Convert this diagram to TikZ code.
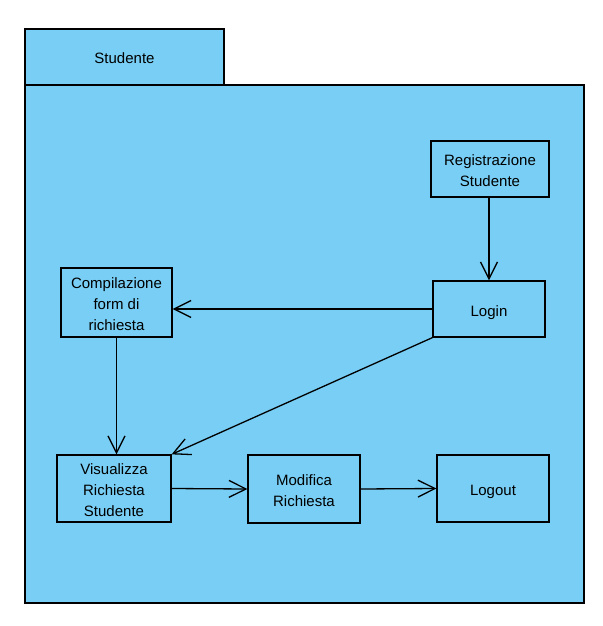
\documentclass[tikz,border=0pt]{standalone}
\usepackage{fontspec}
\setmainfont{Liberation Sans}
\usetikzlibrary{arrows.meta}
\definecolor{pkgblue}{HTML}{78CEF4}
\newcommand{\mlines}[1]{\raisebox{-3pt}[\height][\depth]{\begin{tabular}{@{}c@{}}#1\end{tabular}}}
\begin{document}
\begin{tikzpicture}[x=1pt,y=-1pt,
  box/.style={draw=black,line width=1.3pt,fill=pkgblue},
  uc/.style={draw=black,line width=1.3pt,fill=pkgblue,minimum width=112pt,minimum height=56pt,align=center,inner sep=0pt,font=\fontsize{15}{21}\selectfont},
  conn/.style={draw=black,line width=1.3pt,-{Straight Barb[length=17pt,width=17pt,line width=1.3pt]}}]
\useasboundingbox (0,0) rectangle (602,626);
\fill[white] (0,0) rectangle (602,626);
\draw[box] (25,29) rectangle (224,85);
\node[font=\fontsize{15}{21}\selectfont] (tab) at (124.5,58) {Studente};
\draw[box] (25,85) rectangle (584,603);
\node[uc,minimum width=118pt] (reg) at (490,169) {\mlines{Registrazione\\Studente}};
\node[uc] (login) at (489,309) {\mlines{Login}};
\node[uc,minimum width=111pt,minimum height=69pt] (comp) at (116.5,302.5) {\mlines{Compilazione\\form di\\richiesta}};
\node[uc,minimum width=114pt,minimum height=67pt] (vis) at (114,488.5) {\mlines{Visualizza\\Richiesta\\Studente}};
\node[uc,minimum height=68pt] (mod) at (304,489) {\mlines{Modifica\\Richiesta}};
\node[uc,minimum height=67pt] (logout) at (493,488.5) {\mlines{Logout}};
\draw[conn] (reg.south -| login.north) -- (login.north);
\draw[conn] (login.west) -- (comp.east |- login.west);
\draw[conn] (comp.south) -- (comp.south |- vis.north);
\draw[conn] (login.south west) -- (vis.north east);
\draw[conn] (vis.east) -- (mod.west);
\draw[conn] (mod.east) -- (logout.west);
\end{tikzpicture}
\end{document}
